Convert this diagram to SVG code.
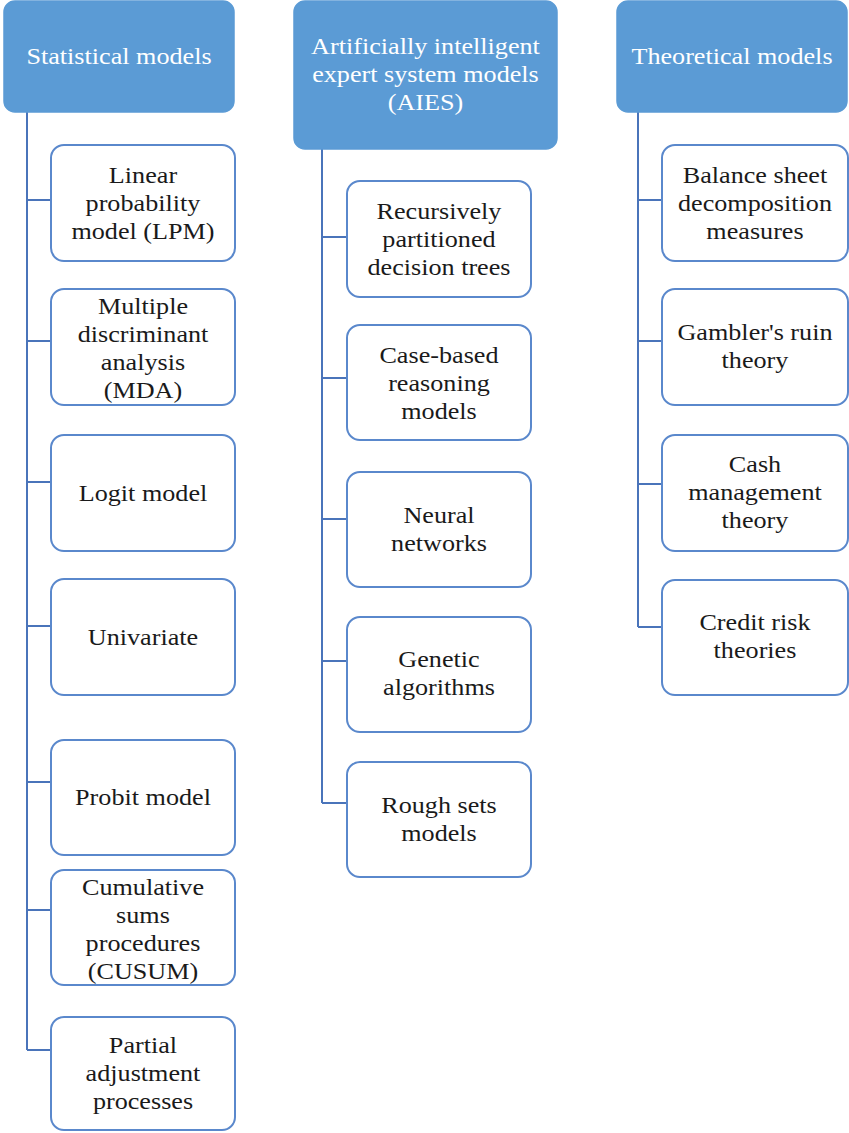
<svg xmlns="http://www.w3.org/2000/svg" width="849" height="1133" viewBox="0 0 849 1133">
  <style>
    .head rect { fill: #5b9bd5; stroke: #5b9bd5; stroke-width: 1.5; }
    .head text { fill: #ffffff; }
    .item rect { fill: #ffffff; stroke: #5a88cc; stroke-width: 2; }
    .item text { fill: #1a1a1a; }
    text { font-family: "Liberation Serif", "Times New Roman", serif; font-size: 24px; text-anchor: middle;
           transform-box: fill-box; transform-origin: center; transform: scaleX(1.09); }
    .links path { fill: none; stroke: #4a74ba; stroke-width: 2; }
  </style>

  <!-- connectors -->
  <g id="connectors" class="links">
    <path d="M27 112 V1050 M27 200 H51 M27 341 H51 M27 482 H51 M27 626 H51 M27 782 H51 M27 910 H51 M27 1050 H51"/>
    <path d="M322 149 V803 M322 237 H347 M322 378 H347 M322 519 H347 M322 661 H347 M322 803 H347"/>
    <path d="M638 112 V627 M638 200 H662 M638 341 H662 M638 484 H662 M638 627 H662"/>
  </g>

  <!-- column headers -->
  <g id="statistical" class="head">
    <rect x="4" y="1" width="230" height="111" rx="11"/>
    <text x="119" y="64">Statistical models</text>
  </g>
  <g id="aies" class="head">
    <rect x="294" y="1" width="263" height="148" rx="11"/>
    <text x="425.5" y="54">Artificially intelligent</text>
    <text x="425.5" y="82">expert system models</text>
    <text x="425.5" y="110">(AIES)</text>
  </g>
  <g id="theoretical" class="head">
    <rect x="617" y="1" width="230" height="111" rx="11"/>
    <text x="732" y="64">Theoretical models</text>
  </g>

  <!-- statistical models -->
  <g id="lpm" class="item">
    <rect x="51" y="145" width="184" height="116" rx="13"/>
    <text x="143" y="183">Linear</text>
    <text x="143" y="211">probability</text>
    <text x="143" y="239">model (LPM)</text>
  </g>
  <g id="mda" class="item">
    <rect x="51" y="289" width="184" height="116" rx="13"/>
    <text x="143" y="314">Multiple</text>
    <text x="143" y="342">discriminant</text>
    <text x="143" y="370">analysis</text>
    <text x="143" y="398">(MDA)</text>
  </g>
  <g id="logit" class="item">
    <rect x="51" y="435" width="184" height="116" rx="13"/>
    <text x="143" y="501">Logit model</text>
  </g>
  <g id="univariate" class="item">
    <rect x="51" y="579" width="184" height="116" rx="13"/>
    <text x="143" y="645">Univariate</text>
  </g>
  <g id="probit" class="item">
    <rect x="51" y="740" width="184" height="115" rx="13"/>
    <text x="143" y="805">Probit model</text>
  </g>
  <g id="cusum" class="item">
    <rect x="51" y="870" width="184" height="115" rx="13"/>
    <text x="143" y="895">Cumulative</text>
    <text x="143" y="923">sums</text>
    <text x="143" y="951">procedures</text>
    <text x="143" y="979">(CUSUM)</text>
  </g>
  <g id="partial" class="item">
    <rect x="51" y="1017" width="184" height="113" rx="13"/>
    <text x="143" y="1053">Partial</text>
    <text x="143" y="1081">adjustment</text>
    <text x="143" y="1109">processes</text>
  </g>

  <!-- AI expert system models -->
  <g id="trees" class="item">
    <rect x="347" y="181" width="184" height="116" rx="13"/>
    <text x="439" y="219">Recursively</text>
    <text x="439" y="247">partitioned</text>
    <text x="439" y="275">decision trees</text>
  </g>
  <g id="cbr" class="item">
    <rect x="347" y="325" width="184" height="115" rx="13"/>
    <text x="439" y="363">Case-based</text>
    <text x="439" y="391">reasoning</text>
    <text x="439" y="419">models</text>
  </g>
  <g id="neural" class="item">
    <rect x="347" y="472" width="184" height="115" rx="13"/>
    <text x="439" y="523">Neural</text>
    <text x="439" y="551">networks</text>
  </g>
  <g id="genetic" class="item">
    <rect x="347" y="617" width="184" height="115" rx="13"/>
    <text x="439" y="667">Genetic</text>
    <text x="439" y="695">algorithms</text>
  </g>
  <g id="rough" class="item">
    <rect x="347" y="762" width="184" height="115" rx="13"/>
    <text x="439" y="813">Rough sets</text>
    <text x="439" y="841">models</text>
  </g>

  <!-- theoretical models -->
  <g id="balance" class="item">
    <rect x="662" y="145" width="186" height="116" rx="13"/>
    <text x="755" y="183">Balance sheet</text>
    <text x="755" y="211">decomposition</text>
    <text x="755" y="239">measures</text>
  </g>
  <g id="gambler" class="item">
    <rect x="662" y="289" width="186" height="116" rx="13"/>
    <text x="755" y="340">Gambler's ruin</text>
    <text x="755" y="368">theory</text>
  </g>
  <g id="cash" class="item">
    <rect x="662" y="435" width="186" height="116" rx="13"/>
    <text x="755" y="472">Cash</text>
    <text x="755" y="500">management</text>
    <text x="755" y="528">theory</text>
  </g>
  <g id="credit" class="item">
    <rect x="662" y="580" width="186" height="115" rx="13"/>
    <text x="755" y="630">Credit risk</text>
    <text x="755" y="658">theories</text>
  </g>
</svg>
